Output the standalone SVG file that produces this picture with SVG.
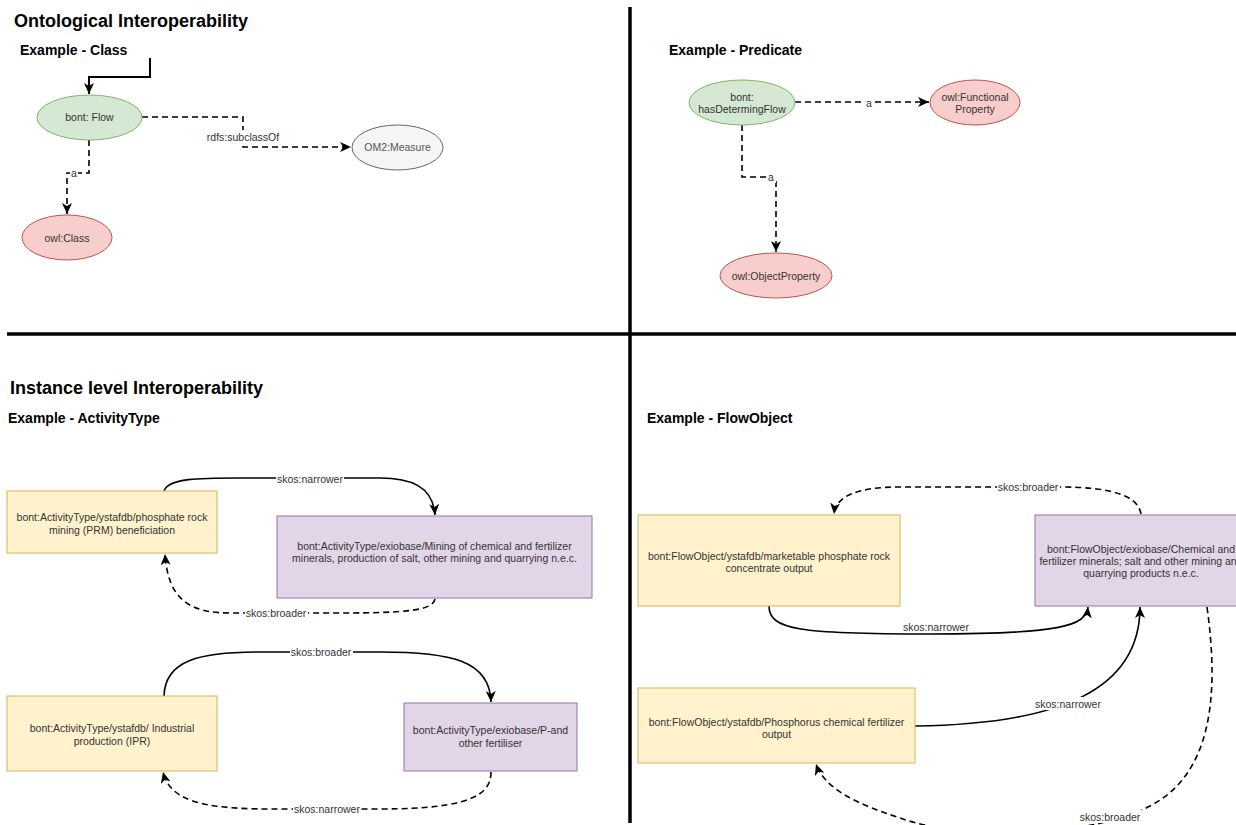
<svg xmlns="http://www.w3.org/2000/svg" width="1236" height="825" viewBox="0 0 1236 825">
<defs>
<style>
.title{font-family:"Liberation Sans",Arial,sans-serif;font-weight:bold;font-size:18px;fill:#000}
.sub{font-family:"Liberation Sans",Arial,sans-serif;font-weight:bold;font-size:14px;fill:#000}
.t{font-family:"Liberation Sans",Arial,sans-serif;font-size:10.5px;fill:#333;text-anchor:middle}
.lbl{font-family:"Liberation Sans",Arial,sans-serif;font-size:10.5px;fill:#333;text-anchor:middle}
.green{fill:#d5e8d4;stroke:#82b366;stroke-width:1}
.red{fill:#f8cecc;stroke:#b85450;stroke-width:1}
.gray{fill:#f5f5f5;stroke:#666666;stroke-width:1}
.yellow{fill:#fff2cc;stroke:#d6b656;stroke-width:1}
.purple{fill:#e1d5e7;stroke:#9673a6;stroke-width:1}
.e{fill:none;stroke:#000;stroke-width:1.6}
.d{stroke-dasharray:6 4}
.div{stroke:#000;stroke-width:3.5;fill:none}
.bg{fill:#fff}
</style>
<marker id="arr" markerUnits="userSpaceOnUse" markerWidth="12" markerHeight="10" refX="11" refY="5" orient="auto" viewBox="0 0 12 10">
<path d="M0,0 L11,5 L0,10 L3,5 Z" fill="#000"/>
</marker>
</defs>
<rect width="1236" height="825" fill="#fff"/>

<g id="dividers">
<line class="div" x1="630" y1="7" x2="630" y2="823"/>
<line class="div" x1="7" y1="334" x2="1236" y2="334"/>
</g>

<g id="titles">
<text class="title" x="14" y="26.5">Ontological Interoperability</text>
<text class="sub" x="20" y="55">Example - Class</text>
<text class="sub" x="669" y="55">Example - Predicate</text>
<text class="title" x="10" y="394">Instance level Interoperability</text>
<text class="sub" x="8" y="423">Example - ActivityType</text>
<text class="sub" x="647" y="423">Example - FlowObject</text>
</g>

<g id="connectors">
<!-- top-left -->
<path class="e" style="stroke-width:2" d="M150,58 L150,77 L89,77 L89,94" marker-end="url(#arr)"/>
<path class="e d" d="M142,117 L243,117 L243,147 L351,147" marker-end="url(#arr)"/>
<rect class="bg" x="206" y="130" width="74" height="13"/>
<text class="lbl" x="243" y="140.5">rdfs:subclassOf</text>
<path class="e d" d="M89,140 L89,173 L67,173 L67,214" marker-end="url(#arr)"/>
<rect class="bg" x="70" y="168" width="8" height="10"/>
<text class="lbl" x="74" y="177">a</text>
<!-- top-right -->
<path class="e d" d="M795,102 L929,102" marker-end="url(#arr)"/>
<rect class="bg" x="864" y="97" width="10" height="11"/>
<text class="lbl" x="869" y="107">a</text>
<path class="e d" d="M742,125 L742,177 L776,177 L776,252" marker-end="url(#arr)"/>
<rect class="bg" x="767" y="172" width="9" height="11"/>
<text class="lbl" x="771" y="181">a</text>
<!-- bottom-left pair 1 -->
<path class="e" d="M164,491 C168,478 200,478 240,478 L380,478 C410,478 433,486 435,515" marker-end="url(#arr)"/>
<rect class="bg" x="276" y="472" width="68" height="13"/>
<text class="lbl" x="310" y="482.5">skos:narrower</text>
<path class="e d" d="M435,599 C433,610 410,613 340,613 L230,613 C190,613 168,600 165,554" marker-end="url(#arr)"/>
<rect class="bg" x="245" y="606" width="63" height="13"/>
<text class="lbl" x="276" y="616.5">skos:broader</text>
<!-- bottom-left pair 2 -->
<path class="e" d="M164,696 C165,660 200,652 260,652 L380,652 C450,652 490,660 491,702" marker-end="url(#arr)"/>
<rect class="bg" x="290" y="645" width="63" height="13"/>
<text class="lbl" x="321" y="655.5">skos:broader</text>
<path class="e d" d="M491,772 C491,795 470,809 380,809 L270,809 C200,809 170,800 163,772" marker-end="url(#arr)"/>
<rect class="bg" x="293" y="802" width="68" height="13"/>
<text class="lbl" x="327" y="812.5">skos:narrower</text>
<!-- bottom-right -->
<path class="e d" d="M1141,514 C1138,495 1110,487 1060,487 L900,487 C860,487 836,495 834,514" marker-end="url(#arr)"/>
<rect class="bg" x="997" y="480" width="63" height="13"/>
<text class="lbl" x="1028" y="490.5">skos:broader</text>
<path class="e" d="M769,606 C769,630 800,634 930,634 C1060,634 1086,626 1088,607" marker-end="url(#arr)"/>
<text class="lbl" x="936" y="630.5">skos:narrower</text>
<path class="e" d="M915,726 C1060,724 1140,690 1140,607" marker-end="url(#arr)"/>
<rect class="bg" x="1034" y="697" width="68" height="13"/>
<text class="lbl" x="1068" y="707.5">skos:narrower</text>
<path class="e d" d="M1207,607 C1220,700 1210,775 1150,806 C1090,838 960,840 900,818 C860,805 825,790 816,764" marker-end="url(#arr)"/>
<rect class="bg" x="1080" y="810" width="62" height="13"/>
<text class="lbl" x="1110" y="820.5">skos:broader</text>
</g>

<g id="n-flow">
<ellipse class="green" cx="89.5" cy="117.5" rx="52.5" ry="22.5"/>
<text class="t" x="89.5" y="121">bont: Flow</text>
</g>
<g id="n-om2">
<ellipse class="gray" cx="397.5" cy="147.5" rx="45.5" ry="22.5"/>
<text class="t" x="397.5" y="151" style="fill:#555">OM2:Measure</text>
</g>
<g id="n-owlclass">
<ellipse class="red" cx="67" cy="237.5" rx="45" ry="22.5"/>
<text class="t" x="67" y="241.5">owl:Class</text>
</g>
<g id="n-hasdet">
<ellipse class="green" cx="742" cy="102.5" rx="53" ry="22.5"/>
<text class="t" x="742" y="101">bont:</text>
<text class="t" x="742" y="113">hasDetermingFlow</text>
</g>
<g id="n-functional">
<ellipse class="red" cx="975" cy="102.5" rx="45" ry="22.5"/>
<text class="t" x="975" y="101">owl:Functional</text>
<text class="t" x="975" y="113">Property</text>
</g>
<g id="n-objprop">
<ellipse class="red" cx="776" cy="275.5" rx="56" ry="22.5"/>
<text class="t" x="776" y="279.5">owl:ObjectProperty</text>
</g>

<g id="n-prm">
<rect class="yellow" x="7" y="491" width="210" height="62"/>
<text class="t" x="112" y="521">bont:ActivityType/ystafdb/phosphate rock</text>
<text class="t" x="112" y="533.5">mining (PRM) beneficiation</text>
</g>
<g id="n-mining">
<rect class="purple" x="277" y="516" width="315" height="82"/>
<text class="t" x="434.5" y="550">bont:ActivityType/exiobase/Mining of chemical and fertilizer</text>
<text class="t" x="434.5" y="562">minerals, production of salt, other mining and quarrying n.e.c.</text>
</g>
<g id="n-ipr">
<rect class="yellow" x="7" y="696" width="210" height="75"/>
<text class="t" x="112" y="732">bont:ActivityType/ystafdb/ Industrial</text>
<text class="t" x="112" y="744.5">production (IPR)</text>
</g>
<g id="n-pfert">
<rect class="purple" x="404" y="703" width="173" height="68"/>
<text class="t" x="490.5" y="734">bont:ActivityType/exiobase/P-and</text>
<text class="t" x="490.5" y="746.5">other fertiliser</text>
</g>
<g id="n-marketable">
<rect class="yellow" x="638" y="515" width="262" height="91"/>
<text class="t" x="769" y="560">bont:FlowObject/ystafdb/marketable phosphate rock</text>
<text class="t" x="769" y="572">concentrate output</text>
</g>
<g id="n-chemical">
<rect class="purple" x="1035" y="515" width="212" height="91"/>
<text class="t" x="1141" y="553">bont:FlowObject/exiobase/Chemical and</text>
<text class="t" x="1141" y="565">fertilizer minerals; salt and other mining and</text>
<text class="t" x="1141" y="577">quarrying products n.e.c.</text>
</g>
<g id="n-phosphorus">
<rect class="yellow" x="638" y="688" width="277" height="75"/>
<text class="t" x="776.5" y="726">bont:FlowObject/ystafdb/Phosphorus chemical fertilizer</text>
<text class="t" x="776.5" y="738">output</text>
</g>
</svg>
